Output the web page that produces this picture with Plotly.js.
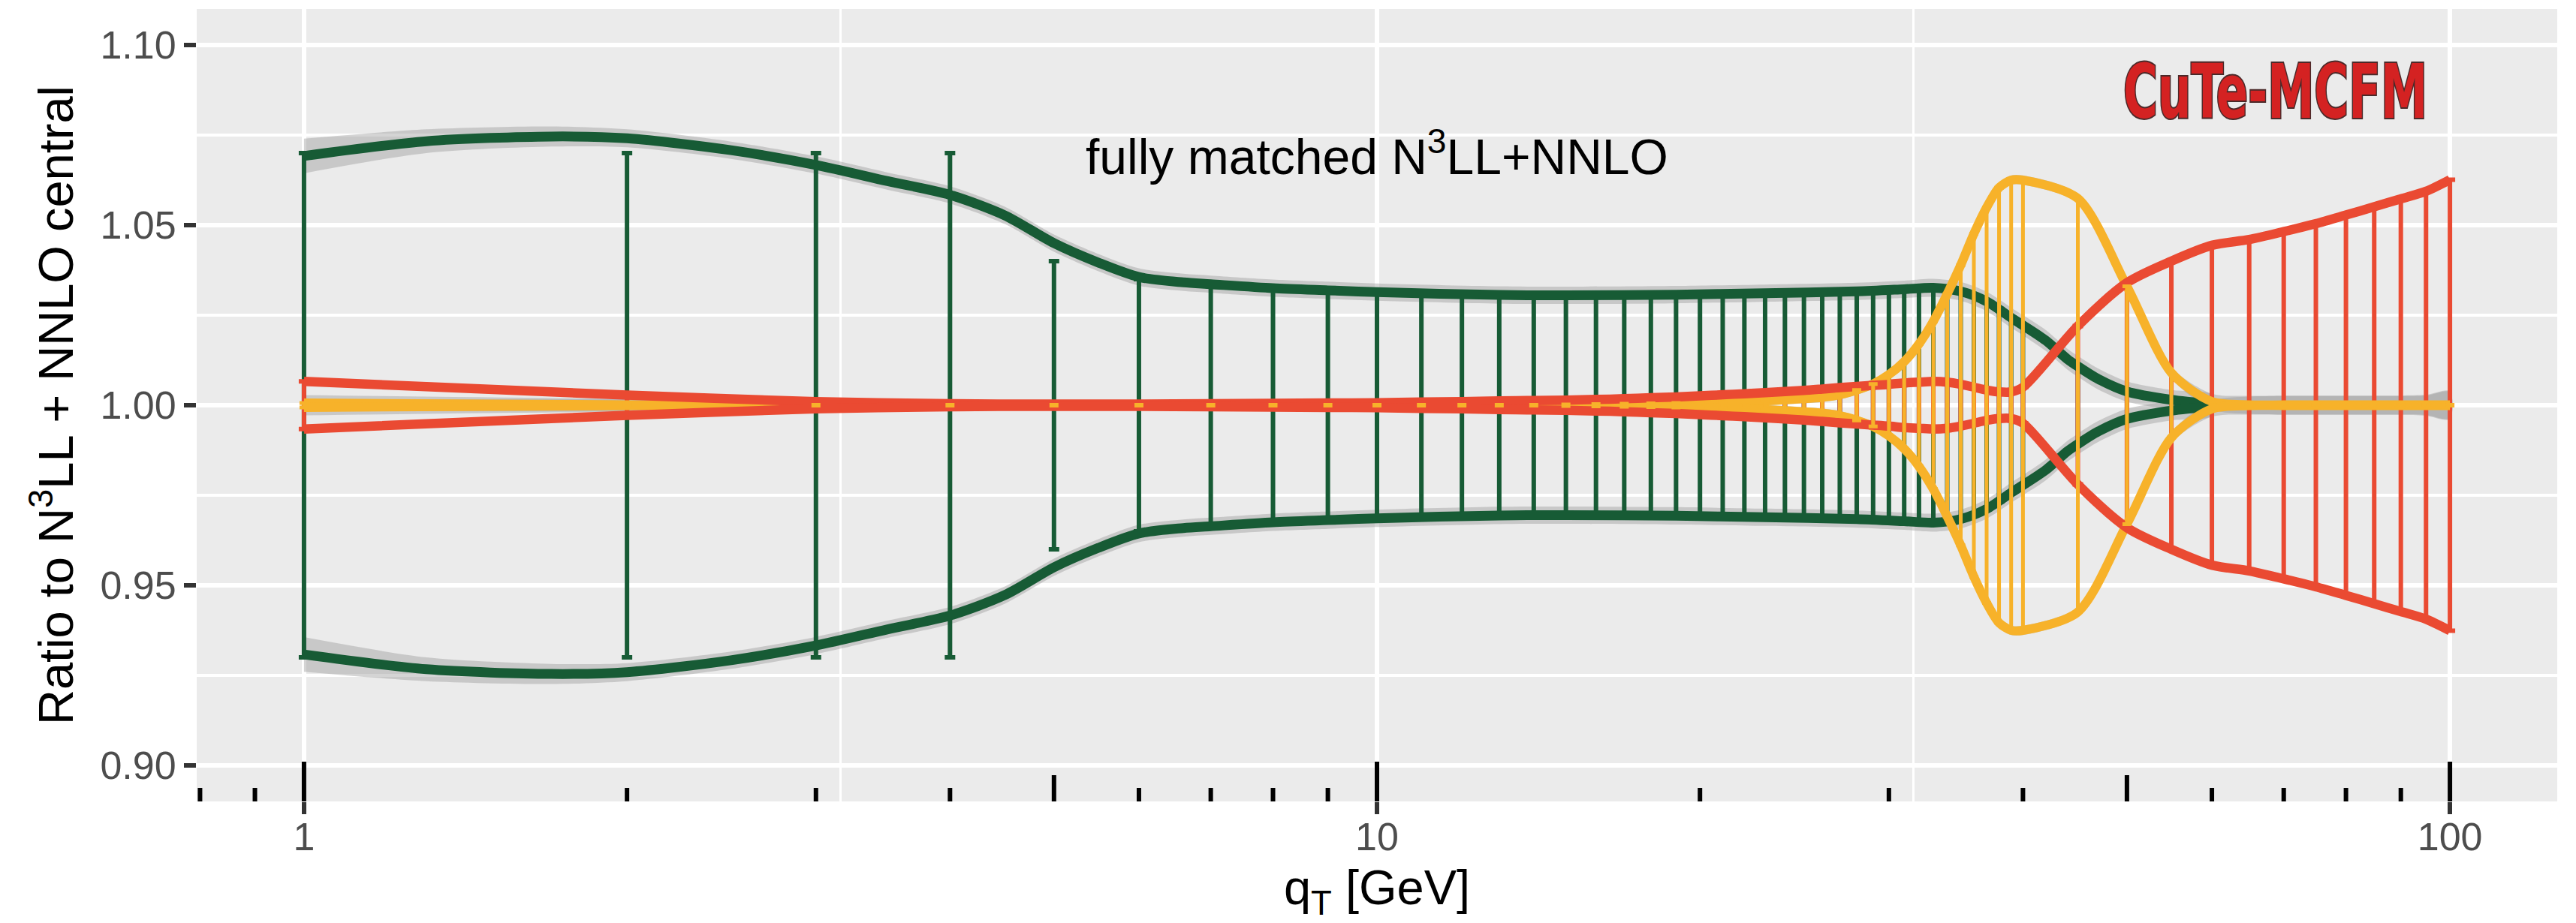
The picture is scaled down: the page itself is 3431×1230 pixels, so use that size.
<!DOCTYPE html>
<html>
<head>
<meta charset="utf-8">
<script src="https://cdn.plot.ly/plotly-3.0.1.min.js"></script>
<style>
  html, body { margin: 0; padding: 0; background: #ffffff; }
  #chart { width: 3431px; height: 1230px; }
</style>
</head>
<body>
<div id="chart"></div>
<script>
// ---------------- data ----------------
const barQ = [1,2,3,4,5,6,7,8,9,10,11,12,13,14,15,16,17,18,19,20,
              21,22,23,24,25,26,27,28,29,30,31,32,33,34,35,36,37,38,39,40,
              45,50,55,60,65,70,75,80,85,90,95,100];

const greenHi = [1.070,1.070,1.070,1.070,1.040,1.035,1.0336,1.0326,1.0319,1.0314,
                 1.0311,1.0308,1.0306,1.0305,1.0305,1.0305,1.0306,1.0306,1.0307,1.0308,
                 1.0309,1.0310,1.0311,1.0313,1.0314,1.0316,1.0318,1.0320,1.0322,1.0324,
                 1.0325,1.0326,1.0327,1.0325,1.0316,1.0302,1.0288,1.0267,1.0243,1.0222,
                 1.0108,1.0038,1.0015,1.0003,null,null,null,null,null,null,null,null];
const greenLo = [0.930,0.930,0.930,0.930,0.960,0.965,0.9664,0.9674,0.9681,0.9686,
                 0.9689,0.9692,0.9694,0.9695,0.9695,0.9695,0.9694,0.9694,0.9693,0.9692,
                 0.9691,0.9690,0.9689,0.9687,0.9686,0.9684,0.9682,0.9680,0.9678,0.9676,
                 0.9675,0.9674,0.9673,0.9675,0.9684,0.9698,0.9712,0.9733,0.9757,0.9778,
                 0.9892,0.9962,0.9985,0.9997,null,null,null,null,null,null,null,null];

const yellowHi = [1.0006,1.0001,1.0001,1.0001,1.0001,1.0001,1.0001,1.0001,1.0001,1.0001,
                  1.0001,1.0001,1.0001,1.0001,1.0002,1.0003,1.0004,1.0005,1.0006,1.0007,
                  1.0008,1.0010,1.0012,1.0015,1.0018,1.0022,1.0029,1.0042,1.0059,1.0085,
                  1.0121,1.0170,1.0233,1.0309,1.0389,1.0476,1.0549,1.0604,1.0625,1.0625,
                  1.0574,1.0330,1.0090,1.0010,1.0001,1.0001,1.0001,1.0001,1.0001,1.0001,1.0001,1.0001];
const yellowLo = [0.9994,0.9999,0.9999,0.9999,0.9999,0.9999,0.9999,0.9999,0.9999,0.9999,
                  0.9999,0.9999,0.9999,0.9999,0.9998,0.9997,0.9996,0.9995,0.9994,0.9993,
                  0.9992,0.9990,0.9988,0.9985,0.9982,0.9978,0.9971,0.9958,0.9941,0.9915,
                  0.9879,0.9830,0.9767,0.9691,0.9611,0.9524,0.9451,0.9396,0.9375,0.9375,
                  0.9426,0.9670,0.9910,0.9990,0.9999,0.9999,0.9999,0.9999,0.9999,0.9999,0.9999,0.9999];
const yellowRibbon = [0.0022,0.0017,0.0015,0.0013,0.0013,0.0013,0.0013,0.0013,0.0013,0.0013,
                      0.0013,0.0013,0.0013,0.0013,0.0013,0.0013,0.0013,0.0013,0.0013,0.0013,
                      0.0013,0.0013,0.0013,0.0013,0.0013,0.0013,0.0013,0.0013,0.0013,0.0013,
                      0.0013,0.0013,0.0013,0.0013,0.0013,0.0013,0.0013,0.0013,0.0013,0.0013,
                      0.0013,0.0013,0.0015,0.0022,0.0025,0.0026,0.0026,0.0026,0.0026,0.0026,0.0028,0.0038];

const redHi = [1.0066,1.0028,1.0010,1.0004,1.0003,1.0003,1.0004,1.0005,1.0006,1.0007,
               1.0009,1.0010,1.0012,1.0013,1.0014,1.0016,1.0018,1.0021,1.0023,1.0026,
               1.0029,1.0032,1.0035,1.0038,1.0041,1.0045,1.0049,1.0052,1.0055,1.0058,
               1.0062,1.0064,1.0066,1.0064,1.0058,1.0050,1.0042,1.0037,1.0037,1.0050,
               1.0220,1.0340,1.0400,1.0444,1.0460,1.0482,1.0504,1.0528,1.0551,1.0573,1.0594,1.0626];
const redLo = [0.9934,0.9972,0.9990,0.9996,0.9997,0.9997,0.9996,0.9995,0.9994,0.9993,
               0.9991,0.9990,0.9988,0.9987,0.9986,0.9984,0.9982,0.9979,0.9977,0.9974,
               0.9971,0.9968,0.9965,0.9962,0.9959,0.9955,0.9951,0.9948,0.9945,0.9942,
               0.9938,0.9936,0.9934,0.9936,0.9942,0.9950,0.9958,0.9963,0.9963,0.9950,
               0.9780,0.9660,0.9600,0.9556,0.9540,0.9518,0.9496,0.9472,0.9449,0.9427,0.9406,0.9374];

// smooth green envelope (drawn curve) and its confidence ribbon half-width
const greenLineQ  = [1,1.3,1.7,2,2.5,3,3.5,4,4.5,5,5.5,6,6.6,7,8,9,10,13,15,19,23,28,31,33,35,37,39,40,42,44,45,47,50,55,60];
const greenLineHi = [1.0692,1.0733,1.0746,1.0741,1.0708,1.0667,1.0622,1.0584,1.0527,1.0450,1.0396,1.0356,1.0341,1.0336,1.0325,1.0319,1.0314,1.0306,1.0305,1.0307,1.0311,1.0316,1.0322,1.0326,1.0316,1.0288,1.0243,1.0222,1.0180,1.0128,1.0108,1.0073,1.0038,1.0015,1.0003];
const greenLineLo = [0.9308,0.9267,0.9254,0.9259,0.9292,0.9333,0.9378,0.9416,0.9473,0.9550,0.9604,0.9644,0.9659,0.9664,0.9675,0.9681,0.9686,0.9694,0.9695,0.9693,0.9689,0.9684,0.9678,0.9674,0.9684,0.9712,0.9757,0.9778,0.9820,0.9872,0.9892,0.9927,0.9962,0.9985,0.9997];
const greenRibbon = [0.0048,0.0033,0.0028,0.0025,0.0024,0.0024,0.0024,0.0024,0.0024,0.0024,0.0024,0.0024,0.0024,0.0024,0.0024,0.0024,0.0024,0.0024,0.0024,0.0024,0.0024,0.0024,0.0024,0.0025,0.0026,0.0027,0.0028,0.0028,0.0029,0.0029,0.0029,0.0029,0.0028,0.0027,0.0026];

// axis ticks / labels
const xTickVals = [1, 10, 100];
const xTickText = ['1', '10', '100'];
const xMinorVals = [3.1623, 31.623];
const yTickVals = [0.90, 0.95, 1.00, 1.05, 1.10];
const yTickText = ['0.90', '0.95', '1.00', '1.05', '1.10'];
const yMinorVals = [0.925, 0.975, 1.025, 1.075];
const logTickVals = [0.8,0.9,1,2,3,4,5,6,7,8,9,10,20,30,40,50,60,70,80,90,100];
const logTickKind = ['s','s','l','s','s','s','m','s','s','s','s','l','s','s','s','m','s','s','s','s','l'];

// ---------------- styling ----------------
const GREEN = '#175B35', YELLOW = '#F7B22A', RED = '#EA4A32', RIB = 'rgba(153,153,153,0.42)';
const Y_RANGE = [0.89, 1.11];
const M = {l: 262, r: 25, t: 12, b: 162};
const PLOT_H = 1230 - M.t - M.b;
const pxToY = px => px * (Y_RANGE[1] - Y_RANGE[0]) / PLOT_H;
const tickLenPx = {s: 18, m: 35, l: 53};

function ribbonTrace(q, centre, half) {
  const xs = [], ys = [];
  for (let i = 0; i < q.length; i++) { if (centre[i] == null) continue; xs.push(q[i]); ys.push(centre[i] + half[i]); }
  for (let i = q.length - 1; i >= 0; i--) { if (centre[i] == null) continue; xs.push(q[i]); ys.push(centre[i] - half[i]); }
  return {x: xs, y: ys, type: 'scatter', mode: 'lines', fill: 'toself', fillcolor: RIB,
          line: {width: 0, shape: 'spline', smoothing: 0.8}, hoverinfo: 'skip'};
}
function lineTrace(q, v, color, width) {
  const xs = [], ys = [];
  q.forEach((qq, i) => { if (v[i] != null) { xs.push(qq); ys.push(v[i]); } });
  return {x: xs, y: ys, type: 'scatter', mode: 'lines',
          line: {color: color, width: width, shape: 'spline', smoothing: 0.8}, hoverinfo: 'skip'};
}
function barTrace(q, lo, hi, color, thick, capHalf) {
  const xs = [], ys = [], up = [], dn = [];
  q.forEach((qq, i) => {
    if (hi[i] == null || lo[i] == null) return;
    const c = (hi[i] + lo[i]) / 2;
    xs.push(qq); ys.push(c); up.push(hi[i] - c); dn.push(c - lo[i]);
  });
  return {x: xs, y: ys, type: 'scatter', mode: 'markers', marker: {size: 1, opacity: 0},
          error_y: {type: 'data', symmetric: false, array: up, arrayminus: dn,
                    color: color, thickness: thick, width: capHalf}, hoverinfo: 'skip'};
}
function logTickTrace() {
  const xs = [], ys = [];
  logTickVals.forEach((v, i) => {
    xs.push(v, v, null);
    ys.push(Y_RANGE[0], Y_RANGE[0] + pxToY(tickLenPx[logTickKind[i]]), null);
  });
  return {x: xs, y: ys, type: 'scatter', mode: 'lines', line: {color: '#000000', width: 6},
          connectgaps: false, hoverinfo: 'skip'};
}

const traces = [
  ribbonTrace(greenLineQ, greenLineHi, greenRibbon),
  ribbonTrace(greenLineQ, greenLineLo, greenRibbon),
  ribbonTrace(barQ, yellowHi, yellowRibbon),
  ribbonTrace(barQ, yellowLo, yellowRibbon),
  barTrace(barQ, greenLo, greenHi, GREEN, 6, 7),
  barTrace(barQ, redLo, redHi, RED, 6, 7),
  lineTrace(greenLineQ, greenLineHi, GREEN, 13),
  lineTrace(greenLineQ, greenLineLo, GREEN, 13),
  lineTrace(barQ, yellowHi, YELLOW, 12),
  lineTrace(barQ, yellowLo, YELLOW, 12),
  lineTrace(barQ, redHi, RED, 12.5),
  lineTrace(barQ, redLo, RED, 12.5),
  barTrace(barQ, yellowLo, yellowHi, YELLOW, 5, 6),
  logTickTrace()
];

const FONT = 'Liberation Sans, Arial, Helvetica, sans-serif';
const layout = {
  width: 3431, height: 1230,
  margin: {l: M.l, r: M.r, t: M.t, b: M.b, pad: 0},
  paper_bgcolor: '#FFFFFF', plot_bgcolor: '#EBEBEB',
  showlegend: false,
  font: {family: FONT, color: '#000000'},
  xaxis: {
    type: 'log', range: [-0.1, 2.1], automargin: false,
    tickmode: 'array', tickvals: xTickVals, ticktext: xTickText,
    ticks: 'outside', ticklen: 16, tickwidth: 6, tickcolor: '#333333',
    ticklabelstandoff: -14,
    tickfont: {family: FONT, size: 52, color: '#4D4D4D'},
    showgrid: true, gridcolor: '#FFFFFF', gridwidth: 6.5,
    zeroline: false, showline: false,
    minor: {tickmode: 'array', tickvals: xMinorVals, showgrid: true, gridcolor: '#FFFFFF', gridwidth: 3.3, ticks: ''},
    title: {text: 'q<sub>T</sub> [GeV]', font: {family: FONT, size: 65, color: '#000000'}, standoff: 16}
  },
  yaxis: {
    range: Y_RANGE, automargin: false,
    tickmode: 'array', tickvals: yTickVals, ticktext: yTickText,
    ticks: 'outside', ticklen: 16, tickwidth: 6, tickcolor: '#333333',
    tickfont: {family: FONT, size: 52, color: '#4D4D4D'},
    showgrid: true, gridcolor: '#FFFFFF', gridwidth: 6.5,
    zeroline: false, showline: false,
    minor: {tickmode: 'array', tickvals: yMinorVals, showgrid: true, gridcolor: '#FFFFFF', gridwidth: 3.3, ticks: ''},
    title: {text: 'Ratio to N<sup>3</sup>LL + NNLO central', font: {family: FONT, size: 65, color: '#000000'}, standoff: 14}
  },
  annotations: [
    {text: 'fully matched N<sup>3</sup>LL+NNLO', xref: 'paper', yref: 'paper', x: 0.5, y: 0.818,
     xanchor: 'center', yanchor: 'middle', showarrow: false,
     font: {family: FONT, size: 66, color: '#000000'}},
    {text: '<b>CuTe-MCFM</b>', xref: 'paper', yref: 'paper', x: 0.8807, y: 0.8958,
     xanchor: 'center', yanchor: 'middle', showarrow: false,
     font: {family: 'Liberation Sans Narrow, DejaVu Sans Condensed, sans-serif', size: 100, color: '#D42222'}}
  ]
};

Plotly.newPlot('chart', traces, layout, {staticPlot: true, displayModeBar: false}).then(gd => {
  gd.querySelectorAll('.annotation-text').forEach(t => {
    if (t.textContent.indexOf('CuTe') >= 0) {
      t.setAttribute('textLength', '405');
      t.setAttribute('lengthAdjust', 'spacingAndGlyphs');
      t.style.stroke = '#4A2A2A';
      t.style.strokeWidth = '4px';
      t.style.paintOrder = 'stroke';
    }
  });
});
</script>
</body>
</html>
